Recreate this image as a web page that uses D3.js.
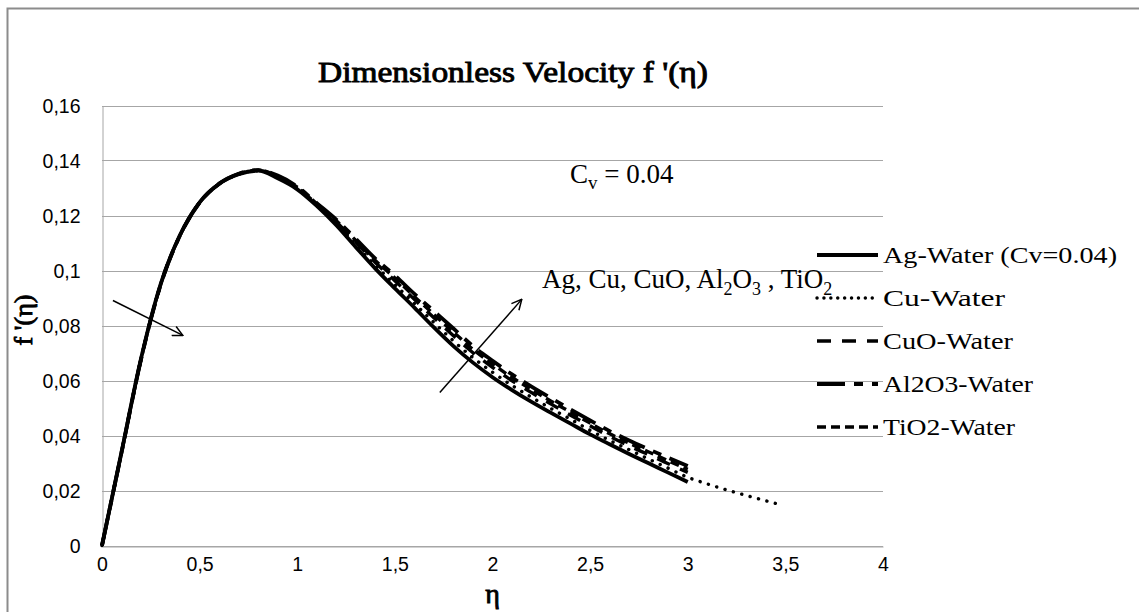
<!DOCTYPE html>
<html>
<head>
<meta charset="utf-8">
<script src="https://cdn.jsdelivr.net/npm/d3@7"></script>
<style>
  body { margin: 0; background: #fff; }
  svg { display: block; }
  .grid line { stroke: #a6a6a6; stroke-width: 1; }
  .tick text { font-family: "Liberation Sans", Arial, sans-serif; font-size: 19.5px; fill: #000; }
  .serif { font-family: "Liberation Serif", "Times New Roman", serif; }
  .bold { stroke: #000; stroke-width: 0.9; }
</style>
</head>
<body>
<script>
// data
var eta = [0, 0.1, 0.2, 0.3, 0.4, 0.5, 0.6, 0.7, 0.8, 0.9, 1.0, 1.1, 1.2, 1.3, 1.4, 1.5,
           1.6, 1.7, 1.8, 1.9, 2.0, 2.1, 2.2, 2.3, 2.4, 2.5, 2.6, 2.7, 2.8, 2.9, 3.0];
// Cu-Water runs a bit further
var etaCu = eta.concat([3.1, 3.2, 3.3, 3.45]);

var agWater = [0, 0.0340, 0.0680, 0.0950, 0.1130, 0.1248, 0.1315, 0.1350, 0.1363, 0.1335, 0.1295,
               0.1235, 0.1165, 0.1085, 0.1007, 0.0935, 0.0865, 0.0793, 0.0725, 0.0665, 0.0612,
               0.0565, 0.0522, 0.0482, 0.0443, 0.0404, 0.0368, 0.0333, 0.0299, 0.0265, 0.0231];
var cuWater = [0, 0.0339, 0.0679, 0.0949, 0.1129, 0.1247, 0.1315, 0.1350, 0.1363, 0.1338, 0.1298,
               0.1238, 0.1171, 0.1094, 0.1018, 0.0949, 0.0880, 0.0811, 0.0744, 0.0683, 0.0630,
               0.0582, 0.0539, 0.0498, 0.0459, 0.0419, 0.0382, 0.0348, 0.0314, 0.0281, 0.0248,
               0.0224, 0.0202, 0.0182, 0.0153];
var cuoWater = [0, 0.0339, 0.0678, 0.0948, 0.1129, 0.1247, 0.1315, 0.1351, 0.1364, 0.1341, 0.1301,
                0.1241, 0.1177, 0.1103, 0.1029, 0.0963, 0.0895, 0.0828, 0.0763, 0.0701, 0.0648,
                0.0599, 0.0556, 0.0514, 0.0474, 0.0435, 0.0397, 0.0362, 0.0330, 0.0297, 0.0266];
var al2o3Water = [0, 0.0338, 0.0677, 0.0947, 0.1128, 0.1247, 0.1316, 0.1352, 0.1365, 0.1345, 0.1305,
                  0.1245, 0.1185, 0.1115, 0.1043, 0.0982, 0.0915, 0.0852, 0.0789, 0.0725, 0.0672,
                  0.0622, 0.0578, 0.0536, 0.0495, 0.0455, 0.0416, 0.0382, 0.0350, 0.0319, 0.0289];
var tio2Water = [0, 0.0338, 0.0677, 0.0947, 0.1128, 0.1247, 0.1315, 0.1351, 0.1365, 0.1343, 0.1303,
                 0.1243, 0.1181, 0.1109, 0.1036, 0.0973, 0.0905, 0.0840, 0.0776, 0.0713, 0.0660,
                 0.0611, 0.0567, 0.0525, 0.0485, 0.0445, 0.0406, 0.0372, 0.0340, 0.0308, 0.0277];

var seriesNames = ["Ag-Water (Cv=0.04)", "Cu-Water", "CuO-Water", "Al2O3-Water", "TiO2-Water"];
var xTicks = [0, 0.5, 1, 1.5, 2, 2.5, 3, 3.5, 4];
var yTicks = [0, 0.02, 0.04, 0.06, 0.08, 0.1, 0.12, 0.14, 0.16];

// arrows in data units [eta0, f0, eta1, f1]
var arrows = [[0.056, 0.0891, 0.414, 0.0764], [1.73, 0.0556, 2.15, 0.0895]];

w = 1139;
h = 612;

var svg = d3.select("body").append("svg")
    .attr("width", w)
    .attr("height", h);

// chart border
svg.append("rect")
    .attr("x", 7.5).attr("y", 8.5)
    .attr("width", 1140).attr("height", 612)
    .attr("fill", "none")
    .attr("stroke", "#8c8c8c")
    .attr("stroke-width", 2);

x = d3.scaleLinear().domain([0, 4]).range([102, 883]);
y = d3.scaleLinear().domain([0, 0.16]).range([545.5, 105.5]);

function comma(d) { return String(+d.toFixed(2)).replace(".", ","); }

// gridlines
svg.append("g")
    .attr("class", "grid")
    .selectAll("line")
    .data(yTicks)
    .enter().append("line")
    .attr("x1", x(0)).attr("x2", x(4))
    .attr("y1", function(d) { return Math.round(y(d)) + 0.5; })
    .attr("y2", function(d) { return Math.round(y(d)) + 0.5; });

// Y axis
var yAxis = svg.append("g")
    .attr("transform", "translate(" + (x(0) + 0.5) + ",0.5)")
    .call(d3.axisLeft(y).tickValues(yTicks).tickFormat(comma).tickSize(0).tickPadding(22));
yAxis.select(".domain").attr("stroke", "#a6a6a6");

// X axis
var xAxis = svg.append("g")
    .attr("transform", "translate(0," + (Math.round(y(0)) + 0.5) + ")")
    .call(d3.axisBottom(x).tickValues(xTicks).tickFormat(comma).tickSize(0).tickPadding(11));
xAxis.select(".domain").attr("stroke", "#a6a6a6");

// lines
var valueline = d3.line()
    .x(function(d) { return x(d[0]); })
    .y(function(d) { return y(d[1]); })
    .curve(d3.curveMonotoneX);

var styles = [
  { dash: null, width: 3.8, cap: "butt" },
  { dash: "0.1,8.6", width: 3.4, cap: "round" },
  { dash: "14,11", width: 3.4, cap: "butt" },
  { dash: "28,9,9,9", width: 3.8, cap: "butt" },
  { dash: "9,5", width: 3.4, cap: "butt" }
];

var allSeries = [d3.zip(eta, agWater), d3.zip(etaCu, cuWater), d3.zip(eta, cuoWater),
                 d3.zip(eta, al2o3Water), d3.zip(eta, tio2Water)];

// draw from last to first so Ag ends up on top
for (i = allSeries.length - 1; i >= 0; i--) {
  svg.append("path")
      .datum(allSeries[i])
      .attr("fill", "none")
      .attr("stroke", "#000")
      .attr("stroke-width", styles[i].width)
      .attr("stroke-linecap", styles[i].cap)
      .attr("stroke-dasharray", styles[i].dash)
      .attr("d", valueline);
}

// legend
var legend = svg.append("g").selectAll("g")
    .data(seriesNames)
    .enter().append("g")
    .attr("transform", function(d, i) { return "translate(817," + (255 + i * 43) + ")"; });

legend.append("line")
    .attr("x1", 0).attr("x2", 61)
    .attr("stroke", "#000")
    .attr("stroke-width", function(d, i) { return styles[i].width; })
    .attr("stroke-linecap", function(d, i) { return styles[i].cap; })
    .attr("stroke-dasharray", function(d, i) { return i == 1 ? "0.1,6.8" : styles[i].dash; });

legend.append("text")
    .attr("class", "serif")
    .attr("x", 66).attr("dy", "0.35em")
    .attr("font-size", 23)
    .attr("textLength", function(d, i) { return [234, 122, 130, 150, 132][i]; })
    .attr("lengthAdjust", "spacingAndGlyphs")
    .text(function(d) { return d; });

// title
svg.append("text")
    .attr("class", "serif bold")
    .attr("x", 513).attr("y", 82)
    .attr("text-anchor", "middle")
    .attr("font-size", 30)
    .attr("textLength", 390)
    .attr("lengthAdjust", "spacingAndGlyphs")
    .text("Dimensionless Velocity f '(η)");

// axis titles
svg.append("text")
    .attr("class", "serif bold")
    .attr("x", x(2)).attr("y", 603)
    .attr("text-anchor", "middle")
    .attr("font-size", 28)
    .text("η");

svg.append("text")
    .attr("class", "serif bold")
    .attr("transform", "translate(32,320) rotate(-90)")
    .attr("text-anchor", "middle")
    .attr("font-size", 26)
    .text("f '(η)");

// annotations
var cv = svg.append("text")
    .attr("class", "serif")
    .attr("x", 570).attr("y", 183)
    .attr("font-size", 27);
cv.append("tspan").text("C");
cv.append("tspan").attr("font-size", 19).attr("dy", 6).text("v");
cv.append("tspan").attr("dy", -6).text(" = 0.04");

var note = svg.append("text")
    .attr("class", "serif")
    .attr("x", 542).attr("y", 288)
    .attr("font-size", 27);
note.append("tspan").text("Ag, Cu, CuO, Al");
note.append("tspan").attr("font-size", 18).attr("dy", 7).text("2");
note.append("tspan").attr("dy", -7).text("O");
note.append("tspan").attr("font-size", 18).attr("dy", 7).text("3");
note.append("tspan").attr("dy", -7).text(" , TiO");
note.append("tspan").attr("font-size", 18).attr("dy", 7).text("2");

svg.append("defs").append("marker")
    .attr("id", "head")
    .attr("viewBox", "0 0 12 12")
    .attr("refX", 11).attr("refY", 6)
    .attr("markerWidth", 12).attr("markerHeight", 12)
    .attr("markerUnits", "userSpaceOnUse")
    .attr("orient", "auto")
  .append("path")
    .attr("d", "M1,1 L11,6 L1,11")
    .attr("fill", "none")
    .attr("stroke", "#000")
    .attr("stroke-width", 1.5);

svg.append("g").selectAll("line")
    .data(arrows)
    .enter().append("line")
    .attr("x1", function(d) { return x(d[0]); })
    .attr("y1", function(d) { return y(d[1]); })
    .attr("x2", function(d) { return x(d[2]); })
    .attr("y2", function(d) { return y(d[3]); })
    .attr("stroke", "#000")
    .attr("stroke-width", 1.5)
    .attr("marker-end", "url(#head)");
</script>
</body>
</html>
